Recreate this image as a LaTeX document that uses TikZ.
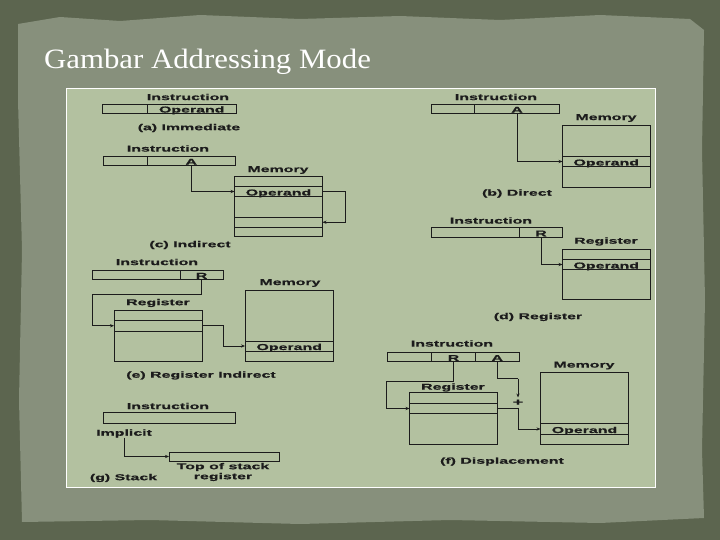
\documentclass[tikz,border=0pt]{standalone}
\usepackage{fontspec}
\usetikzlibrary{arrows.meta}
\newfontfamily\dfont{Liberation Sans}[FakeStretch=1.85,FakeBold=0.6]
\newfontfamily\tfont{Liberation Serif}[FakeStretch=1.1]
\definecolor{outerc}{RGB}{92,101,79}
\definecolor{paperc}{RGB}{135,144,124}
\definecolor{panelc}{RGB}{179,193,160}
\definecolor{ink}{RGB}{28,28,28}
\newcommand\mybox[6]{\node[bx, minimum width={(#4-#2)*1pt}, minimum height={(#5-#3)*1pt}] (#1) at ({(#2+#4)/2},{(#3+#5)/2}) {#6};}
\begin{document}
\begin{tikzpicture}[x=1pt,y=-1pt,
  bx/.style={draw=ink, line width=0.9pt, inner sep=0pt, outer sep=0pt, text height=8pt, text depth=0pt, font=\dfont\bfseries\fontsize{8.6}{10}\selectfont, text=ink},
  lbl/.style={inner sep=0pt, font=\dfont\bfseries\fontsize{8.6}{10}\selectfont, text=ink},
  con/.style={draw=ink, line width=0.8pt},
  arr/.style={con, -{Stealth[length=4pt,width=3.2pt]}},
]
\useasboundingbox (0,0) rectangle (720,540);
% slide background
\fill[outerc] (0,0) rectangle (720,540);
\fill[paperc] (18,24) -- (60,17) -- (120,21) -- (200,15) -- (300,19) -- (400,16) -- (500,20) -- (600,15) -- (690,19) -- (704,30) -- (702,150) -- (705,300) -- (702,450) -- (704,518) -- (600,523) -- (450,520) -- (300,524) -- (150,520) -- (22,522) -- (19,400) -- (22,250) -- (18,100) -- cycle;
\node[anchor=base west, text=white, font=\tfont\fontsize{28}{30}\selectfont, inner sep=0pt] (title) at (44,69) {Gambar Addressing Mode};
% panel
\draw[white, line width=1pt, fill=panelc] (66,89) rectangle (655,487);

% (a) Immediate
\node[lbl] (aIns) at (188,97) {Instruction};
\mybox{aL}{102.5}{104}{147.5}{113}{}
\mybox{aR}{147.5}{104}{236}{113}{Operand}
\node[lbl] (aCap) at (189,128) {(a) Immediate};

% (c) Indirect
\node[lbl] (cIns) at (168,148.5) {Instruction};
\mybox{cL}{103}{156}{147.5}{165.5}{}
\mybox{cR}{147.5}{156}{235}{165.5}{A}
\node[lbl] (cMemL) at (278,170) {Memory};
\mybox{cMem}{234.5}{176}{322.5}{236.5}{}
\mybox{cOp}{234.5}{186.5}{322.5}{196.5}{Operand}
\mybox{cP}{234.5}{217.5}{322.5}{227}{}
\coordinate (cLoop) at (345,222.25);
\draw[arr] (cR.south) |- (cOp.west);
\draw[arr] (cOp.east) -| (cLoop) -- (cP.east);
\node[lbl] (cCap) at (190,245) {(c) Indirect};

% (b) Direct
\node[lbl] (bIns) at (496,97) {Instruction};
\mybox{bL}{431.5}{104}{474.5}{113.5}{}
\mybox{bR}{474.5}{104}{559.5}{113.5}{A}
\node[lbl] (bMemL) at (606,118) {Memory};
\mybox{bMem}{562.5}{125}{650}{187}{}
\mybox{bOp}{562.5}{156.5}{650}{166.5}{Operand}
\draw[arr] (bR.south) |- (bOp.west);
\node[lbl] (bCap) at (517,193.5) {(b) Direct};

% (d) Register
\node[lbl] (dIns) at (491,220.5) {Instruction};
\mybox{dL}{431.5}{227.5}{519.5}{237.5}{}
\mybox{dR}{519.5}{227.5}{562.5}{237.5}{R}
\node[lbl] (dRegL) at (606,241.5) {Register};
\mybox{dReg}{562.5}{249.5}{650}{299.5}{}
\mybox{dOp}{562.5}{259.5}{650}{269.5}{Operand}
\draw[arr] (dR.south) |- (dOp.west);
\node[lbl] (dCap) at (538,317) {(d) Register};

% (e) Register Indirect
\node[lbl] (eIns) at (157,262) {Instruction};
\mybox{eL}{92}{270}{180}{279.5}{}
\mybox{eR}{180}{270}{223}{279.5}{R}
\node[lbl] (eRegL) at (158,303) {Register};
\mybox{eReg}{114}{310}{202}{361.5}{}
\mybox{eRow}{114}{320.5}{202}{331}{}
\node[lbl] (eMemL) at (290,283) {Memory};
\mybox{eMem}{245}{290}{333.5}{361.5}{}
\mybox{eOp}{245}{341}{333.5}{351}{Operand}
\coordinate (e1) at (92,294);
\coordinate (e2) at (223,346);
\draw[arr] (eR.south) |- (e1) |- (eRow.west);
\draw[arr] (eRow.east) -| (e2) -- (eOp.west);
\node[lbl] (eCap) at (201,375.5) {(e) Register Indirect};

% (f) Displacement
\node[lbl] (fIns) at (452,343.5) {Instruction};
\mybox{fL}{387.5}{352.5}{431.5}{361.5}{}
\mybox{fR}{431.5}{352.5}{475.5}{361.5}{R}
\mybox{fA}{475.5}{352.5}{519}{361.5}{A}
\node[lbl] (fRegL) at (453,387.5) {Register};
\mybox{fReg}{409.5}{392.5}{497.5}{444.5}{}
\mybox{fRow}{409.5}{403.5}{497.5}{413.5}{}
\node[lbl] (fMemL) at (584,365.5) {Memory};
\mybox{fMem}{540.5}{372.5}{628.5}{444.5}{}
\mybox{fOp}{540.5}{423.5}{628.5}{434.5}{Operand}
\coordinate (f1) at (386,381.5);
\draw[arr] (fR.south) |- (f1) |- (fRow.west);
\coordinate (f2) at (518,378.5);
\coordinate (f3) at (518,397.5);
\draw[con] (fA.south) |- (f2);
\draw[arr] (f2) -- (f3);
\node[lbl, font=\dfont\bfseries\fontsize{10}{10}\selectfont] (fPlus) at (518,402.5) {+};
\coordinate (f4) at (518,429);
\draw[arr] (fRow.east) -| (f4) -- (fOp.west);
\node[lbl] (fCap) at (502,461.5) {(f) Displacement};

% (g) Stack
\node[lbl] (gIns) at (168,406) {Instruction};
\mybox{gBox}{103}{412.5}{235}{423}{}
\node[lbl, anchor=west] (gImp) at (96,433.5) {Implicit};
\mybox{gTos}{169}{452}{279}{461}{}
\draw[arr] (gImp.south) |- (gTos.west);
\node[lbl, align=center] (gTosL) at (223,472) {Top of stack\\register};
\node[lbl] (gCap) at (123.5,478) {(g) Stack};
\end{tikzpicture}
\end{document}
